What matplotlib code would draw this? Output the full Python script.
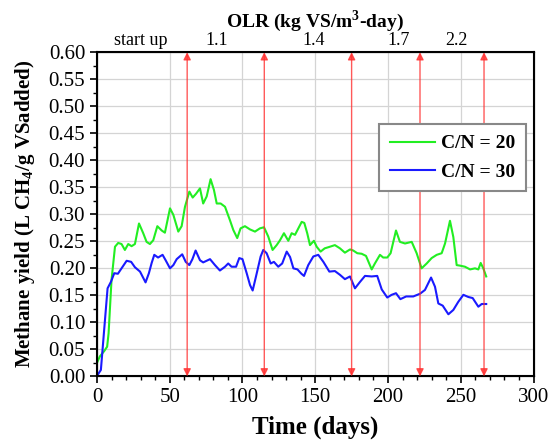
import numpy as np
import matplotlib.pyplot as plt

plt.rcParams['font.family'] = ['Liberation Serif', 'DejaVu Serif']
plt.rcParams['mathtext.fontset'] = 'custom'
plt.rcParams['mathtext.rm'] = 'Liberation Serif'
plt.rcParams['mathtext.bf'] = 'Liberation Serif:bold'

# C/N = 20 (green)
days_20 = [0, 2, 5, 7, 8, 10, 12.4, 14.6, 16.9, 19.2, 21.5, 23.8, 26.1, 28.9, 31.8,
           34.1, 36.4, 38.7, 41.5, 44.5, 46.7, 50.2, 52.5, 55.9, 58.2, 60.5, 63.5,
           65.8, 68.1, 70.8, 73, 75.4, 78.1, 80.4, 82.3, 85, 88, 91.4, 93.7, 96.4,
           98.7, 101.7, 105.2, 108.6, 112, 114.8, 117.7, 120.7, 123.5, 125.8, 128.5,
           131.5, 133.8, 136.1, 140.7, 142.5, 144.5, 146.4, 149.1, 151, 153.7, 156.5,
           160.1, 163.5, 167, 170.4, 173.9, 176.1, 178.9, 181.9, 184.9, 188.8, 191,
           194.5, 196.7, 199.5, 201.8, 205.5, 208.2, 211.7, 216.3, 219.7, 223.1,
           226.6, 230, 233.5, 236.9, 239.2, 242.6, 244.9, 247.2, 249.5, 252.9, 256.4,
           259.8, 262.1, 263.7, 265.5, 267.5]
yield_20 = [0.025, 0.037, 0.047, 0.055, 0.08, 0.178, 0.24, 0.247, 0.245, 0.234, 0.245,
            0.241, 0.245, 0.283, 0.265, 0.249, 0.245, 0.252, 0.278, 0.27, 0.266, 0.311,
            0.299, 0.268, 0.278, 0.314, 0.342, 0.331, 0.338, 0.348, 0.32, 0.333, 0.365,
            0.345, 0.32, 0.32, 0.314, 0.289, 0.271, 0.256, 0.274, 0.278, 0.272, 0.268,
            0.274, 0.276, 0.259, 0.234, 0.243, 0.252, 0.265, 0.251, 0.265, 0.262, 0.286,
            0.284, 0.265, 0.243, 0.251, 0.24, 0.231, 0.237, 0.24, 0.243, 0.237, 0.229,
            0.235, 0.233, 0.228, 0.227, 0.223, 0.198, 0.209, 0.225, 0.22, 0.22, 0.228,
            0.27, 0.249, 0.246, 0.249, 0.228, 0.2, 0.209, 0.219, 0.225, 0.228, 0.246,
            0.288, 0.258, 0.206, 0.205, 0.203, 0.198, 0.2, 0.198, 0.21, 0.2, 0.185]

# C/N = 30 (blue)
days_30 = [0.5, 2.7, 5.5, 7.3, 9.6, 11.9, 14.4, 17.4, 20.4, 23.5, 26.1, 29.6, 33.4,
           35.7, 37.6, 39.4, 42, 45.1, 47.2, 50.2, 52.5, 54.8, 58.6, 61, 63.5, 65.6,
           67.8, 70.8, 73, 77.7, 81.1, 84.5, 88, 90.2, 92.5, 95.6, 97.8, 100, 102.9,
           105.2, 107, 109.3, 112.5, 114.3, 116.6, 119.4, 121.6, 124.6, 127.3, 130.4,
           132.7, 135, 137.8, 140.5, 142.3, 145.2, 148.7, 152.1, 155.6, 159.7, 163.5,
           167, 170.4, 173.9, 177.3, 180.8, 184.2, 188.8, 192.6, 195.7, 199.5, 202.5,
           205.5, 208.5, 212.5, 217.4, 222, 225.4, 229.6, 232.3, 234.6, 237.6, 241.5,
           244.9, 248.3, 251.8, 255.2, 258.2, 262.1, 264.4, 267.5]
yield_30 = [0.003, 0.012, 0.104, 0.163, 0.175, 0.191, 0.19, 0.202, 0.214, 0.212, 0.202,
            0.194, 0.174, 0.191, 0.21, 0.225, 0.22, 0.225, 0.215, 0.2, 0.206, 0.217,
            0.226, 0.212, 0.206, 0.217, 0.233, 0.215, 0.211, 0.217, 0.206, 0.196, 0.203,
            0.209, 0.203, 0.203, 0.219, 0.217, 0.191, 0.169, 0.159, 0.185, 0.222, 0.234,
            0.228, 0.209, 0.212, 0.203, 0.209, 0.231, 0.221, 0.2, 0.198, 0.19, 0.186,
            0.206, 0.222, 0.225, 0.212, 0.194, 0.195, 0.188, 0.18, 0.185, 0.163, 0.175,
            0.186, 0.185, 0.186, 0.161, 0.146, 0.151, 0.154, 0.143, 0.148, 0.148, 0.153,
            0.16, 0.183, 0.166, 0.135, 0.131, 0.115, 0.123, 0.138, 0.151, 0.147, 0.145,
            0.129, 0.134, 0.134]

# OLR change points and labels on top
arrow_days = [62, 115, 175, 222, 266]
olr_pos = [30, 82, 149, 207, 247]
olr_labels = ['start up', '1.1', '1.4', '1.7', '2.2']

fig = plt.figure(figsize=(5.54, 4.46), dpi=100)
ax = fig.add_axes([0.175, 0.156, 0.788, 0.727])

ax.grid(True, color='#d4d4d4', linewidth=0.9)
ax.set_axisbelow(True)

for d in arrow_days:
    ax.annotate('', xy=(d, 0.6), xytext=(d, 0.0),
                arrowprops=dict(arrowstyle='<|-|>', color='#ff3030', lw=1.0,
                                mutation_scale=11, shrinkA=0, shrinkB=0, alpha=0.8))

ax.plot(days_20, yield_20, color='#22ee22', lw=1.5, label='C/N = 20')
ax.plot(days_30, yield_30, color='#1a1aff', lw=1.5, label='C/N = 30')

ax.set_xlim(0, 300)
ax.set_ylim(0, 0.6)
ax.set_xticks(np.arange(0, 301, 50))
ax.set_xticks(np.arange(0, 301, 10), minor=True)
ax.set_yticks(np.arange(0, 0.61, 0.05))
ax.set_yticks(np.arange(0, 0.61, 0.025), minor=True)
ax.yaxis.set_major_formatter(plt.FormatStrFormatter('%.2f'))
ax.tick_params(which='major', length=5, width=1.2, labelsize=15, direction='out')
ax.tick_params(which='minor', length=3, width=1.0, direction='out')
for s in ax.spines.values():
    s.set_linewidth(1.5)

ax.set_xlabel('Time (days)', fontsize=18, fontweight='bold', labelpad=6)
ax.set_ylabel('Methane yield (L CH$_\\mathbf{4}$/g VSadded)', fontsize=15,
              fontweight='bold', labelpad=8)

top = ax.twiny()
top.set_xlim(0, 300)
top.set_xticks(olr_pos)
top.set_xticklabels(olr_labels)
top.tick_params(length=0, labelsize=13, pad=2)
top.set_xlabel('OLR (kg VS/m$^\\mathbf{3}$-day)', fontsize=14, fontweight='bold', labelpad=4)

leg = ax.legend(loc='upper right', bbox_to_anchor=(0.982, 0.778),
                prop={'weight': 'bold', 'size': 14}, fancybox=False,
                edgecolor='#888888', framealpha=1, handlelength=2.3,
                handletextpad=0.3, borderpad=0.55, labelspacing=0.55,
                borderaxespad=0)
leg.get_frame().set_linewidth(1.5)

fig.savefig('out.png', dpi=100)
